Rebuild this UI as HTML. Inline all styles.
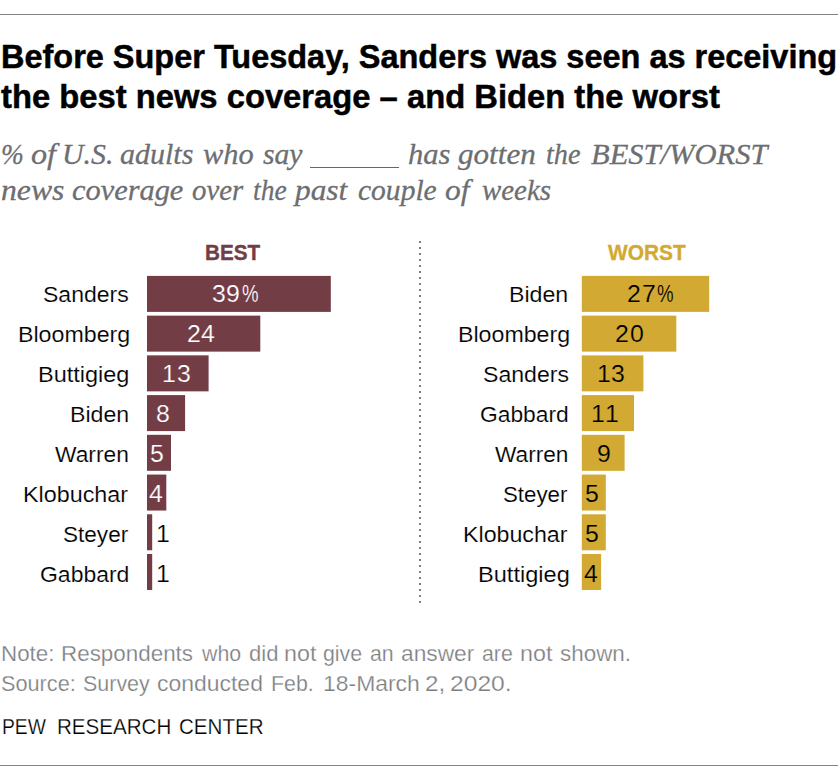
<!DOCTYPE html>
<html><head><meta charset="utf-8"><title>Pew chart</title>
<style>
html,body{margin:0;padding:0;background:#fff;}
body{width:840px;height:776px;position:relative;overflow:hidden;font-family:"Liberation Sans",sans-serif;}
.t{position:absolute;white-space:pre;line-height:1;transform-origin:0 0;}
.rule{position:absolute;left:0;width:838px;height:1px;background:#848484;}
.title{font-weight:bold;color:#000;-webkit-text-stroke:0.5px #000;}
.sub{font-family:"Liberation Serif",serif;font-style:italic;-webkit-text-stroke:0.3px #6d6e71;}
.hd{font-weight:bold;}
.bar{position:absolute;}
</style></head><body>
<div class="rule" style="top:14px"></div>
<div class="rule" style="top:765px"></div>
<div class="t title" style="left:0.99px;top:39.30px;font-size:34px;color:#000;transform:scaleX(0.9549);">Before Super Tuesday, Sanders was seen as receiving</div>

<div class="t title" style="left:1.20px;top:79.30px;font-size:34px;color:#000;transform:scaleX(0.9633);">the best news coverage – and Biden the worst</div>

<div class="t sub" style="left:0.79px;top:138.80px;font-size:30px;color:#6d6e71;transform:scaleX(0.9130);">%</div>
<div class="t sub" style="left:30.60px;top:138.80px;font-size:30px;color:#6d6e71;transform:scaleX(1.0741);">of</div>
<div class="t sub" style="left:62.01px;top:138.80px;font-size:30px;color:#6d6e71;transform:scaleX(0.9965);">U.S.</div>
<div class="t sub" style="left:120.00px;top:138.80px;font-size:30px;color:#6d6e71;">adults</div>
<div class="t sub" style="left:203.30px;top:138.80px;font-size:30px;color:#6d6e71;transform:scaleX(1.0138);">who</div>
<div class="t sub" style="left:263.30px;top:138.80px;font-size:30px;color:#6d6e71;transform:scaleX(0.9883);">say</div>
<div class="t sub" style="left:408.28px;top:138.80px;font-size:30px;color:#6d6e71;transform:scaleX(1.0175);">has</div>
<div class="t sub" style="left:458.30px;top:138.80px;font-size:30px;color:#6d6e71;transform:scaleX(1.0367);">gotten</div>
<div class="t sub" style="left:545.76px;top:138.80px;font-size:30px;color:#6d6e71;transform:scaleX(0.9424);">the</div>
<div class="t sub" style="left:590.70px;top:138.80px;font-size:30px;color:#6d6e71;transform:scaleX(1.0179);">BEST/WORST</div>

<div class="bar" style="left:310px;top:167px;width:89px;height:1px;background:#66676b"></div>
<div class="t sub" style="left:0.64px;top:174.80px;font-size:30px;color:#6d6e71;transform:scaleX(1.0561);">news</div>
<div class="t sub" style="left:71.70px;top:174.80px;font-size:30px;color:#6d6e71;transform:scaleX(1.0126);">coverage</div>
<div class="t sub" style="left:191.70px;top:174.80px;font-size:30px;color:#6d6e71;transform:scaleX(0.9621);">over</div>
<div class="t sub" style="left:253.38px;top:174.80px;font-size:30px;color:#6d6e71;transform:scaleX(0.9169);">the</div>
<div class="t sub" style="left:295.39px;top:174.80px;font-size:30px;color:#6d6e71;transform:scaleX(1.0441);">past</div>
<div class="t sub" style="left:358.30px;top:174.80px;font-size:30px;color:#6d6e71;transform:scaleX(0.9843);">couple</div>
<div class="t sub" style="left:445.00px;top:174.80px;font-size:30px;color:#6d6e71;transform:scaleX(1.0481);">of</div>
<div class="t sub" style="left:481.70px;top:174.80px;font-size:30px;color:#6d6e71;transform:scaleX(0.9626);">weeks</div>

<div class="t hd" style="left:205.28px;top:241.55px;font-size:22.5px;color:#733D46;transform:scaleX(0.9196);-webkit-text-stroke:0.35px #733D46;">BEST</div>

<div class="t hd" style="left:607.60px;top:241.55px;font-size:22.5px;color:#D2AA33;transform:scaleX(0.9274);-webkit-text-stroke:0.35px #D2AA33;">WORST</div>

<svg class="bar" style="left:418px;top:240px" width="4" height="364" shape-rendering="crispEdges"><line x1="2" y1="1" x2="2" y2="363" stroke="#808186" stroke-width="2" stroke-dasharray="2 4"/></svg>
<svg class="bar" style="left:0;top:0" width="840" height="776">
<rect x="147.00" y="275.90" width="183.80" height="36.00" fill="#733D46"/>
<rect x="147.00" y="315.63" width="113.30" height="36.00" fill="#733D46"/>
<rect x="147.00" y="355.36" width="61.60" height="36.00" fill="#733D46"/>
<rect x="147.00" y="395.09" width="38.10" height="36.00" fill="#733D46"/>
<rect x="147.00" y="434.82" width="24.00" height="36.00" fill="#733D46"/>
<rect x="147.00" y="474.55" width="19.30" height="36.00" fill="#733D46"/>
<rect x="147.00" y="514.28" width="5.20" height="36.00" fill="#733D46"/>
<rect x="147.00" y="554.01" width="5.20" height="36.00" fill="#733D46"/>
<rect x="581.80" y="275.90" width="127.40" height="36.00" fill="#D2AA33"/>
<rect x="581.80" y="315.63" width="94.50" height="36.00" fill="#D2AA33"/>
<rect x="581.80" y="355.36" width="61.60" height="36.00" fill="#D2AA33"/>
<rect x="581.80" y="395.09" width="52.20" height="36.00" fill="#D2AA33"/>
<rect x="581.80" y="434.82" width="42.80" height="36.00" fill="#D2AA33"/>
<rect x="581.80" y="474.55" width="24.00" height="36.00" fill="#D2AA33"/>
<rect x="581.80" y="514.28" width="24.00" height="36.00" fill="#D2AA33"/>
<rect x="581.80" y="554.01" width="19.30" height="36.00" fill="#D2AA33"/>
</svg>
<div class="t" style="left:43.18px;top:283.55px;font-size:22.5px;color:#000;transform:scaleX(1.0236);-webkit-text-stroke:0.15px #fff;">Sanders</div>
<div class="t" style="left:212.27px;top:282.80px;font-size:23px;color:#fff;transform:scaleX(1.0800);-webkit-text-stroke:0.2px #733D46;">3</div>
<div class="t" style="left:226.13px;top:282.80px;font-size:23px;color:#fff;transform:scaleX(1.0800);-webkit-text-stroke:0.2px #733D46;">9</div>
<div class="t" style="left:241.50px;top:282.80px;font-size:23px;color:#fff;transform:scaleX(0.8100);-webkit-text-stroke:0.2px #733D46;">%</div>

<div class="t" style="left:17.67px;top:323.55px;font-size:22.5px;color:#000;transform:scaleX(1.0308);-webkit-text-stroke:0.15px #fff;">Bloomberg</div>
<div class="t" style="left:186.88px;top:322.80px;font-size:23px;color:#fff;transform:scaleX(1.0800);-webkit-text-stroke:0.2px #733D46;">2</div>
<div class="t" style="left:201.38px;top:322.80px;font-size:23px;color:#fff;transform:scaleX(1.0800);-webkit-text-stroke:0.2px #733D46;">4</div>

<div class="t" style="left:38.26px;top:363.55px;font-size:22.5px;color:#000;transform:scaleX(1.0436);-webkit-text-stroke:0.15px #fff;">Buttigieg</div>
<div class="t" style="left:161.98px;top:362.80px;font-size:23px;color:#fff;transform:scaleX(1.0800);-webkit-text-stroke:0.2px #733D46;">1</div>
<div class="t" style="left:176.92px;top:362.80px;font-size:23px;color:#fff;transform:scaleX(1.0800);-webkit-text-stroke:0.2px #733D46;">3</div>

<div class="t" style="left:69.67px;top:403.55px;font-size:22.5px;color:#000;transform:scaleX(1.0280);-webkit-text-stroke:0.15px #fff;">Biden</div>
<div class="t" style="left:155.78px;top:402.80px;font-size:23px;color:#fff;transform:scaleX(1.0800);-webkit-text-stroke:0.2px #733D46;">8</div>

<div class="t" style="left:55.00px;top:443.55px;font-size:22.5px;color:#000;transform:scaleX(1.0122);-webkit-text-stroke:0.15px #fff;">Warren</div>
<div class="t" style="left:149.92px;top:442.80px;font-size:23px;color:#fff;transform:scaleX(1.0800);-webkit-text-stroke:0.2px #733D46;">5</div>

<div class="t" style="left:23.36px;top:483.55px;font-size:22.5px;color:#000;transform:scaleX(1.0365);-webkit-text-stroke:0.15px #fff;">Klobuchar</div>
<div class="t" style="left:149.28px;top:482.80px;font-size:23px;color:#fff;transform:scaleX(1.0800);-webkit-text-stroke:0.2px #733D46;">4</div>

<div class="t" style="left:63.20px;top:523.55px;font-size:22.5px;color:#000;transform:scaleX(1.0026);-webkit-text-stroke:0.15px #fff;">Steyer</div>
<div class="t" style="left:155.78px;top:522.80px;font-size:23px;color:#000;transform:scaleX(1.0800);-webkit-text-stroke:0.2px #fff;">1</div>

<div class="t" style="left:39.58px;top:563.55px;font-size:22.5px;color:#000;transform:scaleX(1.0204);-webkit-text-stroke:0.15px #fff;">Gabbard</div>
<div class="t" style="left:155.78px;top:562.80px;font-size:23px;color:#000;transform:scaleX(1.0800);-webkit-text-stroke:0.2px #fff;">1</div>

<div class="t" style="left:509.47px;top:283.55px;font-size:22.5px;color:#000;transform:scaleX(1.0280);-webkit-text-stroke:0.15px #fff;">Biden</div>
<div class="t" style="left:627.23px;top:282.80px;font-size:23px;color:#000;transform:scaleX(1.0800);-webkit-text-stroke:0.2px #D2AA33;">2</div>
<div class="t" style="left:641.73px;top:282.80px;font-size:23px;color:#000;transform:scaleX(1.0800);-webkit-text-stroke:0.2px #D2AA33;">7</div>
<div class="t" style="left:657.10px;top:282.80px;font-size:23px;color:#000;transform:scaleX(0.8100);-webkit-text-stroke:0.2px #D2AA33;">%</div>

<div class="t" style="left:457.67px;top:323.55px;font-size:22.5px;color:#000;transform:scaleX(1.0299);-webkit-text-stroke:0.15px #fff;">Bloomberg</div>
<div class="t" style="left:614.73px;top:322.80px;font-size:23px;color:#000;transform:scaleX(1.0800);-webkit-text-stroke:0.2px #D2AA33;">2</div>
<div class="t" style="left:629.77px;top:322.80px;font-size:23px;color:#000;transform:scaleX(1.0800);-webkit-text-stroke:0.2px #D2AA33;">0</div>

<div class="t" style="left:482.77px;top:363.55px;font-size:22.5px;color:#000;transform:scaleX(1.0260);-webkit-text-stroke:0.15px #fff;">Sanders</div>
<div class="t" style="left:596.98px;top:362.80px;font-size:23px;color:#000;transform:scaleX(1.0800);-webkit-text-stroke:0.2px #D2AA33;">1</div>
<div class="t" style="left:611.32px;top:362.80px;font-size:23px;color:#000;transform:scaleX(1.0800);-webkit-text-stroke:0.2px #D2AA33;">3</div>

<div class="t" style="left:479.69px;top:403.55px;font-size:22.5px;color:#000;transform:scaleX(1.0134);-webkit-text-stroke:0.15px #fff;">Gabbard</div>
<div class="t" style="left:590.78px;top:402.80px;font-size:23px;color:#000;transform:scaleX(1.0800);-webkit-text-stroke:0.2px #D2AA33;">1</div>
<div class="t" style="left:604.88px;top:402.80px;font-size:23px;color:#000;transform:scaleX(1.0800);-webkit-text-stroke:0.2px #D2AA33;">1</div>

<div class="t" style="left:495.20px;top:443.55px;font-size:22.5px;color:#000;transform:scaleX(1.0067);-webkit-text-stroke:0.15px #fff;">Warren</div>
<div class="t" style="left:596.58px;top:442.80px;font-size:23px;color:#000;transform:scaleX(1.0800);-webkit-text-stroke:0.2px #D2AA33;">9</div>

<div class="t" style="left:503.21px;top:483.55px;font-size:22.5px;color:#000;transform:scaleX(0.9902);-webkit-text-stroke:0.15px #fff;">Steyer</div>
<div class="t" style="left:584.57px;top:482.80px;font-size:23px;color:#000;transform:scaleX(1.0800);-webkit-text-stroke:0.2px #D2AA33;">5</div>

<div class="t" style="left:463.07px;top:523.55px;font-size:22.5px;color:#000;transform:scaleX(1.0315);-webkit-text-stroke:0.15px #fff;">Klobuchar</div>
<div class="t" style="left:584.57px;top:522.80px;font-size:23px;color:#000;transform:scaleX(1.0800);-webkit-text-stroke:0.2px #D2AA33;">5</div>

<div class="t" style="left:477.95px;top:563.55px;font-size:22.5px;color:#000;transform:scaleX(1.0483);-webkit-text-stroke:0.15px #fff;">Buttigieg</div>
<div class="t" style="left:583.83px;top:562.80px;font-size:23px;color:#000;transform:scaleX(1.0800);-webkit-text-stroke:0.2px #D2AA33;">4</div>

<div class="t" style="left:0.98px;top:642.80px;font-size:22px;color:#7c7d81;transform:scaleX(1.0164);-webkit-text-stroke:0.25px #fff;">Note:</div>
<div class="t" style="left:60.98px;top:642.80px;font-size:22px;color:#7c7d81;transform:scaleX(1.0183);-webkit-text-stroke:0.25px #fff;">Respondents</div>
<div class="t" style="left:202.03px;top:642.80px;font-size:22px;color:#7c7d81;transform:scaleX(0.9700);-webkit-text-stroke:0.25px #fff;">who</div>
<div class="t" style="left:248.80px;top:642.80px;font-size:22px;color:#7c7d81;transform:scaleX(1.0027);-webkit-text-stroke:0.25px #fff;">did</div>
<div class="t" style="left:284.44px;top:642.80px;font-size:22px;color:#7c7d81;transform:scaleX(1.0587);-webkit-text-stroke:0.25px #fff;">not</div>
<div class="t" style="left:323.44px;top:642.80px;font-size:22px;color:#7c7d81;transform:scaleX(0.9700);-webkit-text-stroke:0.25px #fff;">give</div>
<div class="t" style="left:370.03px;top:642.80px;font-size:22px;color:#7c7d81;transform:scaleX(0.9700);-webkit-text-stroke:0.25px #fff;">an</div>
<div class="t" style="left:401.00px;top:642.80px;font-size:22px;color:#7c7d81;transform:scaleX(1.0341);-webkit-text-stroke:0.25px #fff;">answer</div>
<div class="t" style="left:481.84px;top:642.80px;font-size:22px;color:#7c7d81;transform:scaleX(0.9700);-webkit-text-stroke:0.25px #fff;">are</div>
<div class="t" style="left:519.94px;top:642.80px;font-size:22px;color:#7c7d81;transform:scaleX(1.0587);-webkit-text-stroke:0.25px #fff;">not</div>
<div class="t" style="left:559.60px;top:642.80px;font-size:22px;color:#7c7d81;transform:scaleX(1.0190);-webkit-text-stroke:0.25px #fff;">shown.</div>

<div class="t" style="left:0.81px;top:672.80px;font-size:22px;color:#7c7d81;transform:scaleX(0.9864);-webkit-text-stroke:0.25px #fff;">Source:</div>
<div class="t" style="left:82.72px;top:672.80px;font-size:22px;color:#7c7d81;transform:scaleX(0.9752);-webkit-text-stroke:0.25px #fff;">Survey</div>
<div class="t" style="left:157.00px;top:672.80px;font-size:22px;color:#7c7d81;transform:scaleX(1.0430);-webkit-text-stroke:0.25px #fff;">conducted</div>
<div class="t" style="left:270.70px;top:672.80px;font-size:22px;color:#7c7d81;transform:scaleX(0.9700);-webkit-text-stroke:0.25px #fff;">Feb.</div>
<div class="t" style="left:322.76px;top:672.80px;font-size:22px;color:#7c7d81;transform:scaleX(1.0421);-webkit-text-stroke:0.25px #fff;">18-March</div>
<div class="t" style="left:424.60px;top:672.80px;font-size:22px;color:#7c7d81;transform:scaleX(1.1025);-webkit-text-stroke:0.25px #fff;">2,</div>
<div class="t" style="left:449.88px;top:672.80px;font-size:22px;color:#7c7d81;transform:scaleX(1.1200);-webkit-text-stroke:0.25px #fff;">2020.</div>

<div class="t" style="left:1.62px;top:715.80px;font-size:22px;color:#000;transform:scaleX(0.8774);-webkit-text-stroke:0.25px #fff;">PEW</div>
<div class="t" style="left:56.57px;top:715.80px;font-size:22px;color:#000;transform:scaleX(0.9347);-webkit-text-stroke:0.25px #fff;">RESEARCH</div>
<div class="t" style="left:178.77px;top:715.80px;font-size:22px;color:#000;transform:scaleX(0.9349);-webkit-text-stroke:0.25px #fff;">CENTER</div>

</body></html>
